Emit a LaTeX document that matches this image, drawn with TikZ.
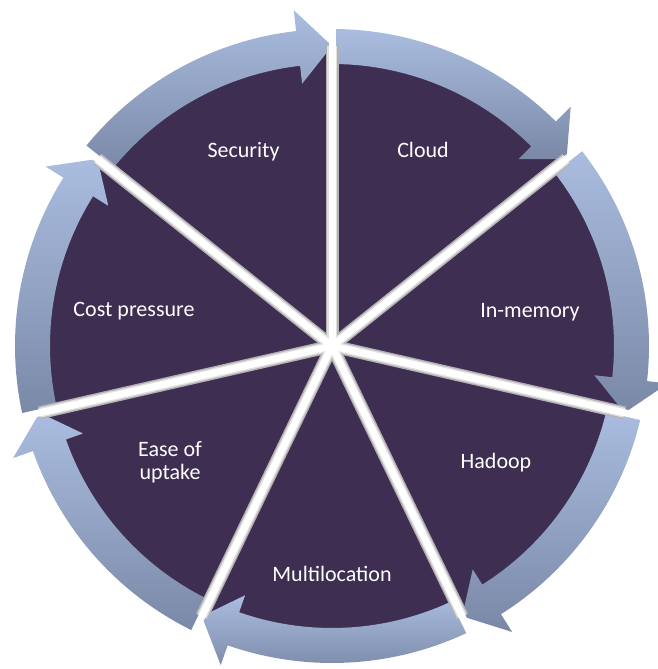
\documentclass[tikz,border=0pt]{standalone}
\usepackage{fontspec}
\setmainfont{Carlito}
\usetikzlibrary{calc}
\definecolor{wedge}{RGB}{62,46,81}
\definecolor{arrlight}{RGB}{170,189,224}
\definecolor{arrdark}{RGB}{122,136,166}
\begin{document}
\begin{tikzpicture}[x=1pt,y=1pt,
  lbl/.style={text=white,font=\fontsize{22}{23}\selectfont,anchor=base,inner sep=0pt,align=center},
  ringarrow/.style={top color=arrlight,bottom color=arrdark,draw=none},
  gaphalo/.style={line width=13pt,color=black!30},
  gapmid/.style={line width=10pt,color=black!12},
  gapcore/.style={line width=7pt,color=white}
]
\useasboundingbox (0,0) rectangle (658,669);
\coordinate (C) at (332,323);
\fill[wedge] (C) circle[radius=300];
\foreach \a in {141.43,90,38.57,-12.86,-64.29,-115.71,-167.14}{
  \pgfmathsetmacro{\b}{\a-51.43}
  \pgfmathsetmacro{\h}{\b+6.5}
  \shade[ringarrow] ($(C)+(\a:282)$) arc[start angle=\a,end angle=\h,radius=282]
    -- ($(C)+(\h:264)$) -- ($(C)+(\b:300)$) -- ($(C)+(\h:338)$)
    -- ($(C)+(\h:317)$) arc[start angle=\h,end angle=\a,radius=317] -- cycle;
}
\begin{scope}
  \clip (C) circle[radius=300];
  \foreach \a in {141.43,90,38.57,-12.86,-64.29,-115.71,-167.14}
    \draw[gaphalo] (C) -- ++(\a:345);
  \foreach \a in {141.43,90,38.57,-12.86,-64.29,-115.71,-167.14}
    \draw[gapmid] (C) -- ++(\a:345);
\end{scope}
\foreach \a in {141.43,90,38.57,-12.86,-64.29,-115.71,-167.14}
  \draw[gapcore] (C) -- ++(\a:350);
\node[lbl] (security) at (243.5,511) {Security};
\node[lbl] (cloud) at (423,511) {Cloud};
\node[lbl] (inmemory) at (530,351) {In-memory};
\node[lbl] (hadoop) at (496,200) {Hadoop};
\node[lbl] (multi) at (332,87) {Multilocation};
\node[lbl] (ease) at (170,189) {Ease of\\uptake};
\node[lbl] (cost) at (134,352) {Cost pressure};
\end{tikzpicture}
\end{document}
